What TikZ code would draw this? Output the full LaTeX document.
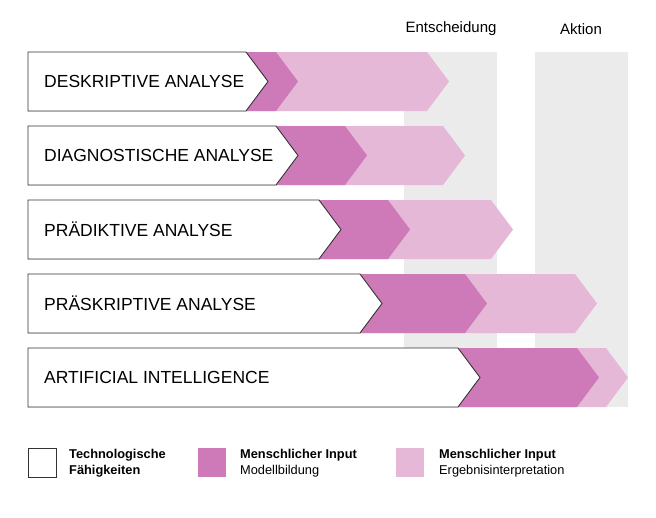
\documentclass[tikz,border=0pt]{standalone}
\usepackage{fontspec}
\setmainfont{Liberation Sans}
\begin{document}
\begin{tikzpicture}[x=1pt,y=-1pt,
  lab/.style={anchor=west,font=\fontsize{17.5}{19}\selectfont,inner sep=0},
  hd/.style={font=\fontsize{15}{17}\selectfont,inner sep=0},
  lg/.style={anchor=west,font=\fontsize{12.8}{16}\selectfont,inner sep=0,align=left}]
\definecolor{dk}{HTML}{CF7AB8}
\definecolor{lt}{HTML}{E5B8D8}
\definecolor{gr}{HTML}{EBEBEB}
\definecolor{ln}{HTML}{333333}
\useasboundingbox (0,0) rectangle (656,517);
\fill[gr] (404,52) rectangle (497,407);
\fill[gr] (535,52) rectangle (628,407);
\node[hd] (e) at (451,29) {Entscheidung};
\node[hd] (a) at (581,29) {Aktion};
\newcommand\chev[3]{(28,#1) -- (#2,#1) -- (#3,#1+29.5) -- (#2,#1+59) -- (28,#1+59) -- cycle}
\foreach \y/\wf/\df/\lf/\t in {52/246/276/427/DESKRIPTIVE ANALYSE,126/276/345/443/DIAGNOSTISCHE ANALYSE,200/319/388/491/PRÄDIKTIVE ANALYSE,274/360/465/575/PRÄSKRIPTIVE ANALYSE,348/458/577/606/ARTIFICIAL INTELLIGENCE}{
  \fill[lt] \chev{\y}{\lf}{\lf+22};
  \fill[dk] \chev{\y}{\df}{\df+22};
  \draw[ln,fill=white,line width=0.9pt] \chev{\y}{\wf}{\wf+22};
  \node[lab] at (44,\y+29.5) {\t};
}
\draw[ln,line width=0.9pt] (28,448) rectangle (56,477);
\fill[dk] (198,448) rectangle (226,477);
\fill[lt] (396,448) rectangle (424,477);
\node[lg] (l1) at (69,463) {\textbf{Technologische}\\\textbf{Fähigkeiten}};
\node[lg] (l2) at (240,463) {\textbf{Menschlicher Input}\\Modellbildung};
\node[lg] (l3) at (439,463) {\textbf{Menschlicher Input}\\Ergebnisinterpretation};
\end{tikzpicture}
\end{document}
